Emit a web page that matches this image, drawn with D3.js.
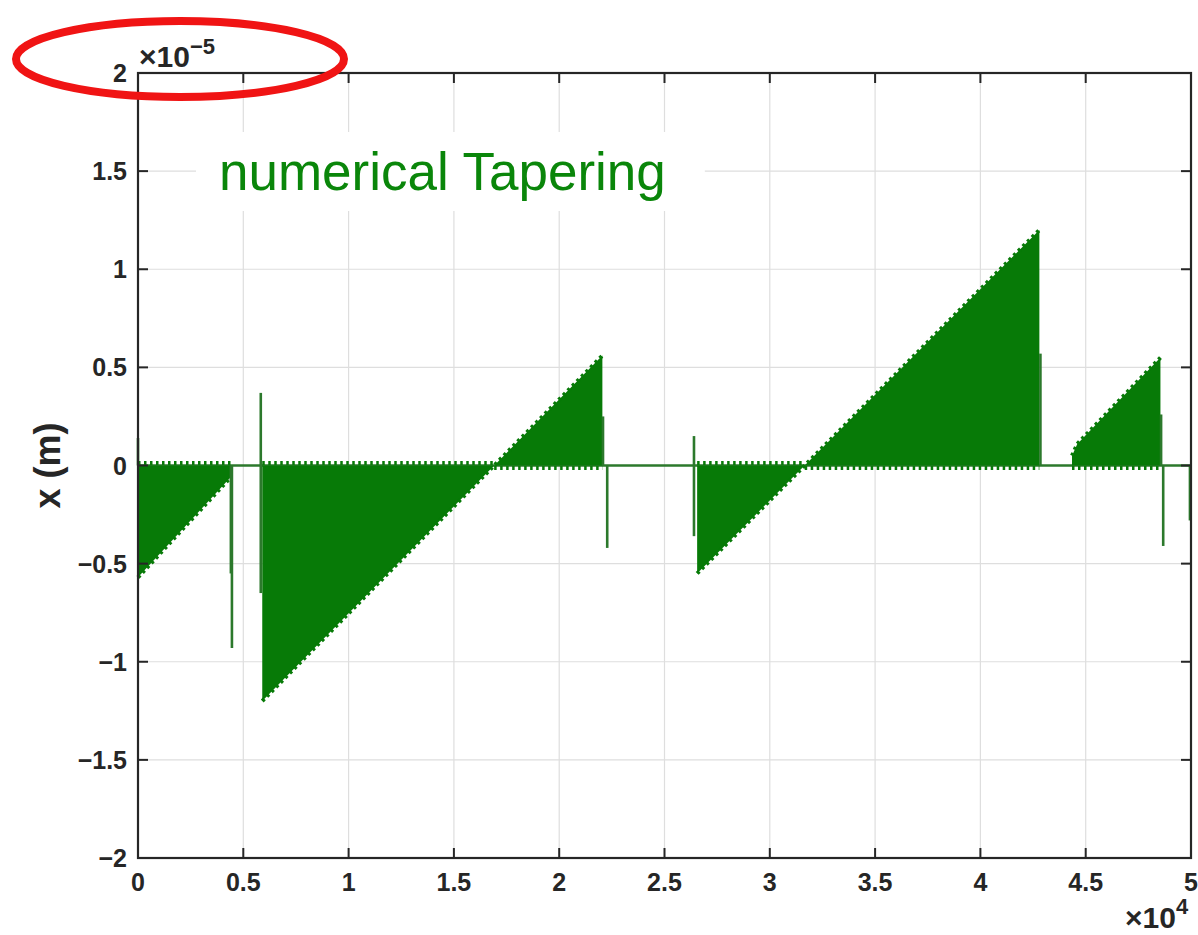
<!DOCTYPE html>
<html>
<head>
<meta charset="utf-8">
<script src="https://cdn.jsdelivr.net/npm/d3@7/dist/d3.min.js"></script>
<style>
  html, body { margin: 0; padding: 0; background: #fff; }
  svg { display: block; }
</style>
</head>
<body>
<svg id="chart" width="1198" height="935"></svg>
<script>
// Displacement x (m), scaled by 1e-5, against turn number, scaled by 1e4.
const xTickValues = [0, 0.5, 1, 1.5, 2, 2.5, 3, 3.5, 4, 4.5, 5];
const xTickLabels = ["0", "0.5", "1", "1.5", "2", "2.5", "3", "3.5", "4", "4.5", "5"];
const yTickValues = [-2, -1.5, -1, -0.5, 0, 0.5, 1, 1.5, 2];
const yTickLabels = ["\u22122", "\u22121.5", "\u22121", "\u22120.5", "0", "0.5", "1", "1.5", "2"];

// Oscillation envelopes: each burst swings between zero and this envelope.
const burst1 = [[0.000, -0.57], [0.440, -0.06]];
const burst2 = [[0.590, -1.20], [2.205, 0.56]];
const burst3 = [[2.655, -0.55], [4.280, 1.20]];
const burst4 = [[4.435, 0.05], [4.460, 0.11], [4.855, 0.55]];
const bursts = [burst1, burst2, burst3, burst4];

// Isolated spikes: [x, top, bottom]
const spikes = [
  [0.000, 0.14, 0.00],
  [0.441, 0.00, -0.55],
  [0.446, 0.00, -0.93],
  [0.583, 0.37, -0.65],
  [2.208, 0.25, 0.00],
  [2.228, 0.00, -0.42],
  [2.640, 0.15, -0.36],
  [4.285, 0.57, 0.00],
  [4.858, 0.26, 0.00],
  [4.868, 0.00, -0.41],
  [4.995, 0.00, -0.28]
];

const svg = d3.select("#chart");
const plotL = 138, plotR = 1191, plotT = 73, plotB = 858;

const x = d3.scaleLinear().domain([0, 5]).range([plotL, plotR]);
const y = d3.scaleLinear().domain([-2, 2]).range([plotB, plotT]);

const fillGreen = "#077a07";
const lineGreen = "#2c792c";
const axisColor = "#262626";
const font = "'Liberation Sans', Arial, Helvetica, sans-serif";

// grid
const grid = svg.append("g");
grid.selectAll("line.gx").data(xTickValues.slice(1, -1)).join("line")
  .attr("class", "gx")
  .attr("x1", d => x(d)).attr("x2", d => x(d))
  .attr("y1", plotT).attr("y2", plotB)
  .attr("stroke", "#dedede").attr("stroke-width", 1.2);
grid.selectAll("line.gy").data(yTickValues.slice(1, -1)).join("line")
  .attr("class", "gy")
  .attr("x1", plotL).attr("x2", plotR)
  .attr("y1", d => y(d)).attr("y2", d => y(d))
  .attr("stroke", "#dedede").attr("stroke-width", 1.2);

const plot = svg.append("g");

// baseline at zero
plot.append("line")
  .attr("x1", x(0)).attr("x2", x(5))
  .attr("y1", y(0)).attr("y2", y(0))
  .attr("stroke", lineGreen).attr("stroke-width", 2.6);

// filled bursts
const area = d3.area()
  .x(d => x(d[0]))
  .y0(y(0))
  .y1(d => y(d[1]));
const envLine = d3.line().x(d => x(d[0])).y(d => y(d[1]));

bursts.forEach(b => {
  plot.append("path").datum(b)
    .attr("d", area)
    .attr("fill", fillGreen);
  // serrated envelope edge
  plot.append("path").datum(b)
    .attr("d", envLine)
    .attr("fill", "none")
    .attr("stroke", fillGreen)
    .attr("stroke-width", 4)
    .attr("stroke-dasharray", "3,3.5");
});

// serrated edge along zero, on the side opposite each envelope
const zeroTeeth = d3.line().x(d => x(d[0])).y(d => y(0) + d[1]);
bursts.forEach(b => {
  const x0 = b[0][0], x1 = b[b.length - 1][0];
  const parts = [];
  for (let i = 0; i < b.length - 1; i++) {
    const [xa, ea] = b[i], [xb, eb] = b[i + 1];
    if (ea < 0 && eb > 0) {
      const xc = xa + (0 - ea) * (xb - xa) / (eb - ea);
      parts.push({from: x0, to: xc, sign: -1});
      parts.push({from: xc, to: x1, sign: 1});
    }
  }
  if (!parts.length) parts.push({from: x0, to: x1, sign: b[b.length - 1][1] < 0 ? -1 : 1});
  parts.forEach(p => {
    plot.append("path")
      .datum([[p.from, p.sign * 2.5], [p.to, p.sign * 2.5]])
      .attr("d", zeroTeeth)
      .attr("fill", "none")
      .attr("stroke", fillGreen)
      .attr("stroke-width", 4)
      .attr("stroke-dasharray", "2.5,3.5");
  });
});

// spikes
plot.selectAll("line.spike").data(spikes).join("line")
  .attr("class", "spike")
  .attr("x1", d => x(d[0])).attr("x2", d => x(d[0]))
  .attr("y1", d => y(d[1])).attr("y2", d => y(d[2]))
  .attr("stroke", lineGreen).attr("stroke-width", 2.6);

// annotation text with white backing
const titleG = svg.append("g");
const titleBox = titleG.append("rect").attr("fill", "#fff");
const title = titleG.append("text")
  .attr("x", 219).attr("y", 190)
  .attr("font-family", font).attr("font-size", 53)
  .attr("fill", "#0a860a")
  .text("numerical Tapering");
const bb = title.node().getBBox();
titleBox.attr("x", bb.x - 23).attr("y", bb.y - 10)
  .attr("width", bb.width + 62).attr("height", bb.height + 20);

// frame
svg.append("rect")
  .attr("x", plotL).attr("y", plotT)
  .attr("width", plotR - plotL).attr("height", plotB - plotT)
  .attr("fill", "none").attr("stroke", axisColor).attr("stroke-width", 2.2);

// ticks (inward, all four sides)
const tickLen = 10;
const ticks = svg.append("g").attr("stroke", axisColor).attr("stroke-width", 2);
ticks.selectAll("line.tb").data(xTickValues).join("line")
  .attr("class", "tb")
  .attr("x1", d => x(d)).attr("x2", d => x(d))
  .attr("y1", plotB).attr("y2", plotB - tickLen);
ticks.selectAll("line.tt").data(xTickValues).join("line")
  .attr("class", "tt")
  .attr("x1", d => x(d)).attr("x2", d => x(d))
  .attr("y1", plotT).attr("y2", plotT + tickLen);
ticks.selectAll("line.tl").data(yTickValues).join("line")
  .attr("class", "tl")
  .attr("x1", plotL).attr("x2", plotL + tickLen)
  .attr("y1", d => y(d)).attr("y2", d => y(d));
ticks.selectAll("line.tr").data(yTickValues).join("line")
  .attr("class", "tr")
  .attr("x1", plotR).attr("x2", plotR - tickLen)
  .attr("y1", d => y(d)).attr("y2", d => y(d));

// tick labels
const labelStyle = sel => sel
  .attr("font-family", font).attr("font-size", 25)
  .attr("font-weight", "bold").attr("fill", axisColor);

svg.append("g").selectAll("text").data(xTickValues).join("text")
  .call(labelStyle)
  .attr("x", d => x(d)).attr("y", 891)
  .attr("text-anchor", "middle")
  .text((d, i) => xTickLabels[i]);

svg.append("g").selectAll("text").data(yTickValues).join("text")
  .call(labelStyle)
  .attr("x", 127).attr("y", d => y(d))
  .attr("dy", "0.36em")
  .attr("text-anchor", "end")
  .text((d, i) => yTickLabels[i]);

// axis exponents
const expY = svg.append("text")
  .attr("x", 139).attr("y", 67)
  .attr("font-family", font).attr("font-weight", "bold")
  .attr("font-size", 30).attr("fill", axisColor);
expY.append("tspan").text("\u00d710");
expY.append("tspan").attr("dy", -13).attr("font-size", 22).text("\u22125");

const expX = svg.append("text")
  .attr("x", 1125).attr("y", 928)
  .attr("font-family", font).attr("font-weight", "bold")
  .attr("font-size", 30).attr("fill", axisColor);
expX.append("tspan").text("\u00d710");
expX.append("tspan").attr("dy", -14).attr("font-size", 22).text("4");

// y-axis title
svg.append("text")
  .attr("transform", `translate(60, ${y(0)}) rotate(-90)`)
  .attr("text-anchor", "middle")
  .attr("font-family", font).attr("font-weight", "bold")
  .attr("font-size", 36).attr("fill", axisColor)
  .text("x (m)");

// highlight ring around the y exponent
svg.append("ellipse")
  .attr("cx", 180).attr("cy", 59)
  .attr("rx", 164).attr("ry", 38)
  .attr("fill", "none")
  .attr("stroke", "#f01414").attr("stroke-width", 8);
</script>
</body>
</html>
